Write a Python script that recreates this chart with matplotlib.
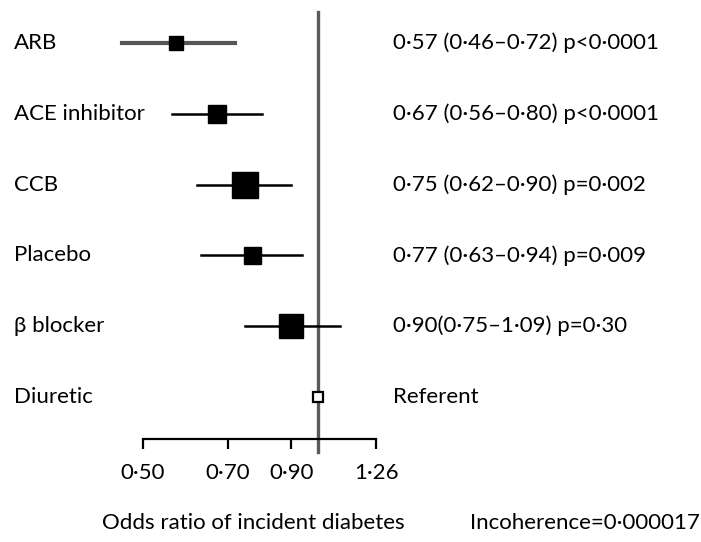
import matplotlib.pyplot as plt
import numpy as np

plt.rcParams['font.family'] = ['Lato', 'DejaVu Sans']

drugs = ["ARB", "ACE inhibitor", "CCB", "Placebo", "β blocker", "Diuretic"]
odds = [0.57, 0.67, 0.75, 0.77, 0.90, 1.0]
lower = [0.46, 0.56, 0.62, 0.63, 0.75, None]
upper = [0.72, 0.80, 0.90, 0.94, 1.09, None]
box_px = [14, 18, 26, 17, 24, 10]
stats = ["0·57 (0·46–0·72) p<0·0001",
         "0·67 (0·56–0·80) p<0·0001",
         "0·75 (0·62–0·90) p=0·002",
         "0·77 (0·63–0·94) p=0·009",
         "0·90(0·75–1·09) p=0·30",
         "Referent"]
ticks = [0.50, 0.70, 0.90, 1.26]
tick_labels = ["0·50", "0·70", "0·90", "1·26"]

W, H = 701, 542
fig = plt.figure(figsize=(W/100, H/100), dpi=100)

# axes placed in pixels: x 100..420, y 10..439 (top to bottom)
ax = fig.add_axes([100/W, (H-439)/H, 320/W, 429/H])
ax.set_xscale('log')
ax.set_xlim(np.exp((100-318)/252.6), np.exp((420-318)/252.6))
row0, step = 43, 70.8
ax.set_ylim((439-row0)/step, (10-row0)/step)

# reference line at OR = 1
ax.plot([1, 1], [(12-row0)/step, (452-row0)/step], color="#5a5a5a", lw=2.4,
        clip_on=False, zorder=1)

fs = 16
for i, name in enumerate(drugs):
    if lower[i] is not None:
        col = "#555555" if i == 0 else "black"
        lw = 3 if i == 0 else 1.8
        ax.plot([lower[i], upper[i]], [i, i], color=col, lw=lw, zorder=2)
        ax.plot(odds[i], i, marker='s', color='black', ms=box_px[i]*0.72,
                linestyle='none', zorder=3)
    else:
        ax.plot(odds[i], i, marker='s', mfc='white', mec='black', mew=1.6,
                ms=box_px[i]*0.72, linestyle='none', zorder=3)
    fig.text(14/W, 1-(row0+step*i)/H, name, fontsize=fs, va='center', ha='left')
    fig.text(393/W, 1-(row0+step*i)/H, stats[i], fontsize=fs, va='center', ha='left')

for s in ['top', 'right', 'left']:
    ax.spines[s].set_visible(False)
ax.spines['bottom'].set_bounds(ticks[0], ticks[-1])
ax.spines['bottom'].set_linewidth(1.6)
ax.set_yticks([])
ax.set_xticks(ticks)
ax.set_xticks([], minor=True)
ax.set_xticklabels(tick_labels, fontsize=fs)
ax.tick_params(axis='x', direction='out', length=7, width=1.6, pad=10)

fig.text(253/W, 1-523/H, "Odds ratio of incident diabetes", fontsize=fs,
         ha='center', va='center')
fig.text(700/W, 1-523/H, "Incoherence=0·000017", fontsize=fs,
         ha='right', va='center')

fig.savefig("out.png", dpi=100)
